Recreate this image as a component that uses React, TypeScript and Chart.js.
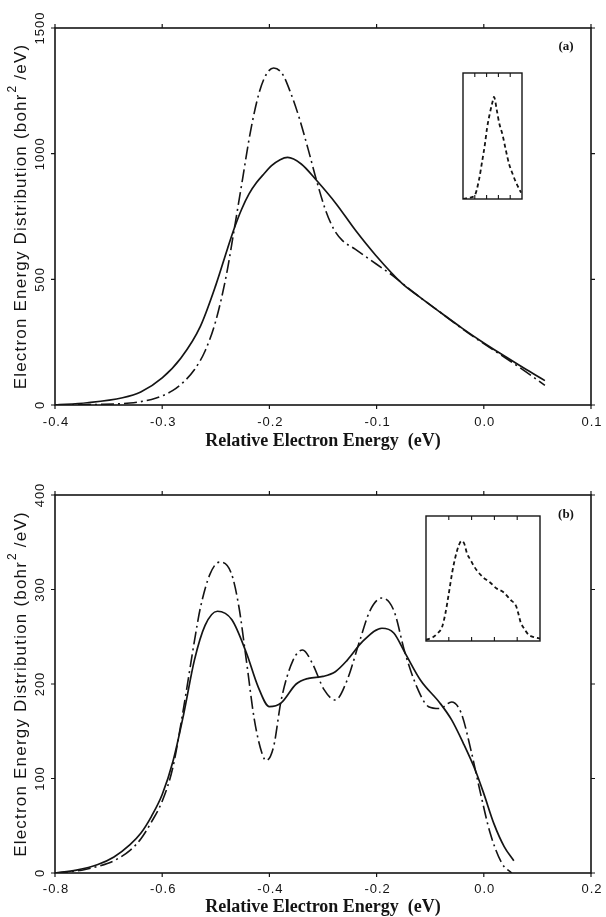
import { useEffect, useRef } from "react";
import { Chart, registerables } from "chart.js";

Chart.register(...registerables);

// ---- Panel (a) -------------------------------------------------------------
const solidAX = [-0.4, -0.37, -0.337, -0.32, -0.3, -0.2825, -0.2644, -0.2499, -0.2391, -0.2326, -0.226, -0.219, -0.212, -0.205, -0.198, -0.19, -0.183, -0.1703, -0.1559, -0.1378, -0.1197, -0.1009, -0.0763, -0.06, -0.04, -0.02, 0.0, 0.02, 0.04, 0.057];
const solidAY = [0, 9, 29, 52, 108, 187, 313, 478, 622, 705, 778, 840, 885, 920, 952, 976, 985, 959, 893, 801, 695, 596, 484, 430, 367, 305, 247, 193, 140, 97];
const dashAX = [-0.4, -0.36, -0.33, -0.31, -0.3, -0.29, -0.28, -0.27, -0.26, -0.25, -0.24, -0.232, -0.225, -0.218, -0.21, -0.203, -0.196, -0.188, -0.18, -0.172, -0.164, -0.156, -0.148, -0.14, -0.132, -0.12, -0.1, -0.085, -0.076, -0.06, -0.04, -0.02, 0.0, 0.02, 0.04, 0.057];
const dashAY = [0, 2, 8, 22, 36, 58, 92, 140, 215, 335, 520, 720, 900, 1080, 1236, 1315, 1341, 1318, 1240, 1140, 1020, 893, 780, 700, 655, 620, 560, 515, 484, 430, 367, 303, 244, 188, 130, 78];
const xTicksA = [-0.4, -0.3, -0.2, -0.1, 0.0, 0.1];
const xTickLabelsA = ["-0.4", "-0.3", "-0.2", "-0.1", "0.0", "0.1"];
const yTicksA = [0, 500, 1000, 1500];
const yTickLabelsA = ["0", "500", "1000", "1500"];

// inset of panel (a), in fractions of its box
const insetAX = [0, 0.1, 0.2, 0.27, 0.325, 0.37, 0.41, 0.455, 0.5, 0.525, 0.575, 0.61, 0.67, 0.725, 0.78, 0.84, 0.9, 0.985];
const insetAY = [0.0, 0.01, 0.03, 0.15, 0.3, 0.43, 0.57, 0.68, 0.77, 0.81, 0.7, 0.61, 0.51, 0.39, 0.28, 0.2, 0.13, 0.05];

// ---- Panel (b) -------------------------------------------------------------
const solidBX = [-0.8, -0.76, -0.72, -0.69, -0.66, -0.64, -0.62, -0.6, -0.58, -0.56, -0.54, -0.52, -0.497, -0.47, -0.443, -0.421, -0.4, -0.378, -0.35, -0.327, -0.3, -0.277, -0.255, -0.226, -0.19, -0.168, -0.147, -0.118, -0.082, -0.06, -0.038, -0.016, 0.0, 0.019, 0.038, 0.056];
const solidBY = [0, 3, 9, 17, 30, 42, 60, 83, 118, 168, 225, 262, 277, 268, 233, 197, 176, 180, 200, 206, 208, 213, 225, 245, 259, 254, 233, 204, 180, 162, 137, 109, 84, 52, 28, 13];
const dashBX = [-0.8, -0.75, -0.72, -0.69, -0.66, -0.64, -0.62, -0.6, -0.58, -0.56, -0.54, -0.529, -0.511, -0.493, -0.471, -0.457, -0.443, -0.428, -0.414, -0.406, -0.392, -0.378, -0.356, -0.338, -0.32, -0.298, -0.277, -0.255, -0.233, -0.212, -0.19, -0.168, -0.147, -0.125, -0.103, -0.082, -0.06, -0.042, -0.024, -0.006, 0.012, 0.034, 0.052];
const dashBY = [0, 3, 7, 13, 24, 36, 54, 76, 112, 175, 245, 280, 316, 329, 317, 282, 225, 162, 127, 119, 134, 183, 225, 236, 222, 194, 183, 204, 243, 278, 291, 278, 233, 197, 176, 174, 181, 169, 130, 84, 42, 10, 0];
const xTicksB = [-0.8, -0.6, -0.4, -0.2, 0.0, 0.2];
const xTickLabelsB = ["-0.8", "-0.6", "-0.4", "-0.2", "0.0", "0.2"];
const yTicksB = [0, 100, 200, 300, 400];
const yTickLabelsB = ["0", "100", "200", "300", "400"];

// inset of panel (b), in fractions of its box
const insetBX = [0, 0.06, 0.1, 0.14, 0.17, 0.2, 0.23, 0.26, 0.29, 0.31, 0.335, 0.36, 0.39, 0.42, 0.45, 0.5, 0.56, 0.62, 0.68, 0.74, 0.79, 0.81, 0.83, 0.86, 0.9, 0.95, 1.0];
const insetBY = [0.01, 0.03, 0.06, 0.11, 0.22, 0.38, 0.55, 0.68, 0.77, 0.8, 0.78, 0.7, 0.65, 0.6, 0.56, 0.51, 0.47, 0.42, 0.39, 0.33, 0.28, 0.22, 0.15, 0.1, 0.05, 0.03, 0.02];
const insetTicks = [0.2, 0.4, 0.6, 0.8];

const X_TITLE = "Relative Electron Energy  (eV)";
const Y_TITLE_MAIN = "Electron Energy Distribution (bohr";
const Y_TITLE_SUP = "2";
const Y_TITLE_END = " /eV)";

const INK = "#141414";
const W = 606;

type Area = { left: number; top: number; right: number; bottom: number };

type PanelProps = {
  top: number;
  height: number;
  area: Area;
  xMin: number;
  xMax: number;
  yMax: number;
  xTicks: number[];
  xTickLabels: string[];
  yTicks: number[];
  yTickLabels: string[];
  solidX: number[];
  solidY: number[];
  dashX: number[];
  dashY: number[];
  tag: string;
  tagPos: [number, number];
  xLabelY: number;
  xTitleY: number;
};

const pts = (xs: number[], ys: number[]) => xs.map((x, i) => ({ x, y: ys[i] }));

function Panel(p: PanelProps) {
  const ref = useRef<HTMLCanvasElement | null>(null);
  useEffect(() => {
    const canvas = ref.current;
    if (!canvas) return;
    const frame = {
      id: "frame",
      afterDatasetsDraw(chart: any) {
        const { ctx, chartArea: a, scales } = chart;
        const xs = scales.x;
        const ys = scales.y;
        ctx.save();
        ctx.strokeStyle = INK;
        ctx.fillStyle = INK;
        ctx.lineWidth = 1.6;
        ctx.strokeRect(a.left, a.top, a.right - a.left, a.bottom - a.top);
        ctx.lineWidth = 1.2;
        const tl = 4;
        ctx.beginPath();
        p.xTicks.forEach((v) => {
          const px = xs.getPixelForValue(v);
          ctx.moveTo(px, a.top);
          ctx.lineTo(px, a.top - tl);
          ctx.moveTo(px, a.bottom);
          ctx.lineTo(px, a.bottom + tl);
        });
        p.yTicks.forEach((v) => {
          const py = ys.getPixelForValue(v);
          ctx.moveTo(a.left, py);
          ctx.lineTo(a.left - tl, py);
          ctx.moveTo(a.right, py);
          ctx.lineTo(a.right + tl, py);
        });
        ctx.stroke();

        // tick labels
        ctx.font = "13px 'Liberation Sans', Arial, sans-serif";
        (ctx as any).letterSpacing = "1px";
        ctx.textAlign = "center";
        ctx.textBaseline = "middle";
        p.xTicks.forEach((v, i) => {
          ctx.fillText(p.xTickLabels[i], xs.getPixelForValue(v) + 1, p.xLabelY);
        });
        p.yTicks.forEach((v, i) => {
          const py = ys.getPixelForValue(v);
          ctx.save();
          ctx.translate(a.left - 15, py);
          ctx.rotate(-Math.PI / 2);
          ctx.fillText(p.yTickLabels[i], 0, 0);
          ctx.restore();
        });

        // x title
        (ctx as any).letterSpacing = "0px";
        ctx.font = "bold 18px 'Liberation Serif', 'Times New Roman', serif";
        ctx.fillText(X_TITLE, (a.left + a.right) / 2, p.xTitleY);

        // y title with superscript
        ctx.save();
        ctx.translate(21, (a.top + a.bottom) / 2);
        ctx.rotate(-Math.PI / 2);
        (ctx as any).letterSpacing = "1.2px";
        const mainFont = "17px 'Liberation Sans', Arial, sans-serif";
        const supFont = "12px 'Liberation Sans', Arial, sans-serif";
        ctx.font = mainFont;
        const w1 = ctx.measureText(Y_TITLE_MAIN).width;
        const w3 = ctx.measureText(Y_TITLE_END).width;
        ctx.font = supFont;
        const w2 = ctx.measureText(Y_TITLE_SUP).width;
        let x0 = -(w1 + w2 + w3) / 2;
        ctx.textAlign = "left";
        ctx.font = mainFont;
        ctx.fillText(Y_TITLE_MAIN, x0, 0);
        x0 += w1;
        ctx.font = supFont;
        ctx.fillText(Y_TITLE_SUP, x0 + 1, -8);
        x0 += w2;
        ctx.font = mainFont;
        ctx.fillText(Y_TITLE_END, x0, 0);
        ctx.restore();

        // panel tag
        (ctx as any).letterSpacing = "0px";
        ctx.font = "bold 13px 'Liberation Serif', 'Times New Roman', serif";
        ctx.textAlign = "center";
        ctx.fillText(p.tag, p.tagPos[0], p.tagPos[1]);
        ctx.restore();
      },
    };

    const chart = new Chart(canvas, {
      type: "scatter",
      data: {
        datasets: [
          {
            data: pts(p.solidX, p.solidY),
            showLine: true,
            borderColor: INK,
            borderWidth: 1.7,
            pointRadius: 0,
            cubicInterpolationMode: "monotone",
            fill: false,
          },
          {
            data: pts(p.dashX, p.dashY),
            showLine: true,
            borderColor: INK,
            borderWidth: 1.6,
            borderDash: [13, 4, 2, 4],
            pointRadius: 0,
            cubicInterpolationMode: "monotone",
            fill: false,
          },
        ],
      },
      options: {
        animation: false,
        responsive: false,
        events: [],
        layout: {
          padding: {
            left: p.area.left,
            top: p.area.top,
            right: W - p.area.right,
            bottom: p.height - p.area.bottom,
          },
        },
        scales: {
          x: { type: "linear", display: false, min: p.xMin, max: p.xMax },
          y: { type: "linear", display: false, min: 0, max: p.yMax },
        },
        plugins: { legend: { display: false }, tooltip: { enabled: false } },
      } as any,
      plugins: [frame],
    });
    return () => chart.destroy();
  }, []);
  return (
    <canvas
      ref={ref}
      width={W}
      height={p.height}
      style={{ position: "absolute", left: 0, top: p.top, width: W, height: p.height }}
    />
  );
}

type InsetProps = { left: number; top: number; w: number; h: number; xs: number[]; ys: number[] };

function Inset(p: InsetProps) {
  const ref = useRef<HTMLCanvasElement | null>(null);
  const pad = 2;
  useEffect(() => {
    const canvas = ref.current;
    if (!canvas) return;
    const box = {
      id: "insetBox",
      afterDatasetsDraw(chart: any) {
        const { ctx, chartArea: a, scales } = chart;
        ctx.save();
        ctx.strokeStyle = INK;
        ctx.lineWidth = 1.4;
        ctx.strokeRect(a.left, a.top, a.right - a.left, a.bottom - a.top);
        ctx.lineWidth = 1.1;
        ctx.beginPath();
        insetTicks.forEach((v) => {
          const px = scales.x.getPixelForValue(v);
          ctx.moveTo(px, a.top);
          ctx.lineTo(px, a.top + 4);
          ctx.moveTo(px, a.bottom);
          ctx.lineTo(px, a.bottom - 4);
        });
        ctx.stroke();
        ctx.restore();
      },
    };
    const chart = new Chart(canvas, {
      type: "scatter",
      data: {
        datasets: [
          {
            data: pts(p.xs, p.ys),
            showLine: true,
            borderColor: INK,
            borderWidth: 1.8,
            borderDash: [4, 3],
            pointRadius: 0,
            cubicInterpolationMode: "monotone",
            fill: false,
          },
        ],
      },
      options: {
        animation: false,
        responsive: false,
        events: [],
        layout: { padding: pad },
        scales: {
          x: { type: "linear", display: false, min: 0, max: 1 },
          y: { type: "linear", display: false, min: 0, max: 1 },
        },
        plugins: { legend: { display: false }, tooltip: { enabled: false } },
      } as any,
      plugins: [box],
    });
    return () => chart.destroy();
  }, []);
  return (
    <canvas
      ref={ref}
      width={p.w + pad * 2}
      height={p.h + pad * 2}
      style={{
        position: "absolute",
        left: p.left - pad,
        top: p.top - pad,
        width: p.w + pad * 2,
        height: p.h + pad * 2,
      }}
    />
  );
}

export default function App() {
  return (
    <div style={{ position: "absolute", left: 0, top: 0, width: W, height: 917, background: "#fff" }}>
      <Panel
        top={0}
        height={460}
        area={{ left: 55, top: 28, right: 591, bottom: 405 }}
        xMin={-0.4}
        xMax={0.1}
        yMax={1500}
        xTicks={xTicksA}
        xTickLabels={xTickLabelsA}
        yTicks={yTicksA}
        yTickLabels={yTickLabelsA}
        solidX={solidAX}
        solidY={solidAY}
        dashX={dashAX}
        dashY={dashAY}
        tag="(a)"
        tagPos={[566, 47]}
        xLabelY={422}
        xTitleY={441}
      />
      <Panel
        top={460}
        height={457}
        area={{ left: 55, top: 35, right: 591, bottom: 413 }}
        xMin={-0.8}
        xMax={0.2}
        yMax={400}
        xTicks={xTicksB}
        xTickLabels={xTickLabelsB}
        yTicks={yTicksB}
        yTickLabels={yTickLabelsB}
        solidX={solidBX}
        solidY={solidBY}
        dashX={dashBX}
        dashY={dashBY}
        tag="(b)"
        tagPos={[566, 55]}
        xLabelY={429}
        xTitleY={447}
      />
      <Inset left={463} top={73} w={59} h={126} xs={insetAX} ys={insetAY} />
      <Inset left={426} top={516} w={114} h={125} xs={insetBX} ys={insetBY} />
    </div>
  );
}
